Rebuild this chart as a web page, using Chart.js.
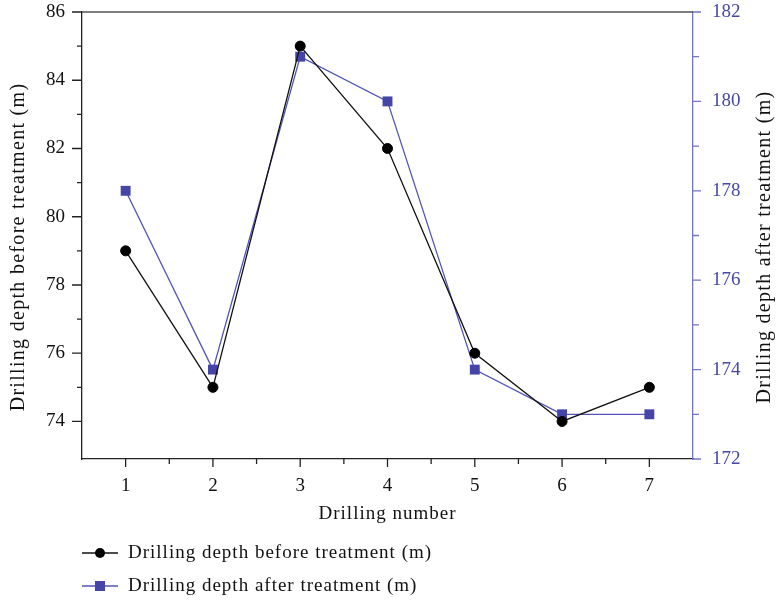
<!DOCTYPE html>
<html>
<head>
<meta charset="utf-8">
<script src="https://cdn.jsdelivr.net/npm/chart.js@4"></script>
<style>
  html, body { margin: 0; padding: 0; background: #fff; }
  #wrap { width: 776px; height: 604px; }
</style>
</head>
<body>
<div id="wrap"><canvas id="chart" width="776" height="604"></canvas></div>
<script>
const drillNumbers = ["1", "2", "3", "4", "5", "6", "7"];
const depthBefore = [79, 75, 85, 82, 76, 74, 75];
const depthAfter = [178, 174, 181, 180, 174, 173, 173];
const leftTicks = [74, 76, 78, 80, 82, 84, 86];
const leftMinor = [75, 77, 79, 81, 83, 85];
const rightTicks = [172, 174, 176, 178, 180, 182];
const rightMinor = [173, 175, 177, 179, 181];

const FONT = "'Liberation Serif', 'DejaVu Serif', serif";
const BLUE_LINE = "#5353b8";
const BLUE_MARK = "#4545a8";
const BLUE_AXIS = "#7474c8";
const BLUE_TEXT = "#4747a4";

function noPad(s) {
  s.paddingTop = 0; s.paddingBottom = 0;
  s.paddingLeft = 0; s.paddingRight = 0;
}

// tick marks, top border, axis titles and the legend
const decor = {
  id: "decor",
  afterDraw(chart) {
    const ctx = chart.ctx;
    const area = chart.chartArea;
    const x = chart.scales.x, y = chart.scales.y, y2 = chart.scales.y2;
    ctx.save();
    ctx.lineWidth = 1.3;

    // top border
    ctx.strokeStyle = "#555";
    ctx.beginPath();
    ctx.moveTo(area.left, area.top);
    ctx.lineTo(area.right, area.top);
    ctx.stroke();

    // left ticks
    ctx.strokeStyle = "#222";
    ctx.beginPath();
    leftTicks.forEach(v => {
      const py = y.getPixelForValue(v);
      ctx.moveTo(area.left - 10, py); ctx.lineTo(area.left, py);
    });
    leftMinor.forEach(v => {
      const py = y.getPixelForValue(v);
      ctx.moveTo(area.left - 5, py); ctx.lineTo(area.left, py);
    });
    // bottom ticks
    drillNumbers.forEach((c, i) => {
      const px = x.getPixelForValue(i);
      ctx.moveTo(px, area.bottom); ctx.lineTo(px, area.bottom + 8);
      if (i < drillNumbers.length - 1) {
        const mx = (px + x.getPixelForValue(i + 1)) / 2;
        ctx.moveTo(mx, area.bottom); ctx.lineTo(mx, area.bottom + 5);
      }
    });
    ctx.stroke();

    // right ticks
    ctx.strokeStyle = BLUE_AXIS;
    ctx.beginPath();
    rightTicks.forEach(v => {
      const py = y2.getPixelForValue(v);
      ctx.moveTo(area.right, py); ctx.lineTo(area.right + 8, py);
    });
    rightMinor.forEach(v => {
      const py = y2.getPixelForValue(v);
      ctx.moveTo(area.right, py); ctx.lineTo(area.right + 6, py);
    });
    ctx.stroke();

    // axis titles
    ctx.fillStyle = "#111";
    ctx.textAlign = "center";
    ctx.textBaseline = "middle";
    ctx.font = "20px " + FONT;
    ctx.letterSpacing = "1.3px";
    const midY = 247;
    ctx.save();
    ctx.translate(19, midY);
    ctx.rotate(-Math.PI / 2);
    ctx.fillText("Drilling depth before treatment (m)", 0, 0);
    ctx.restore();
    ctx.save();
    ctx.translate(765, midY);
    ctx.rotate(-Math.PI / 2);
    ctx.fillText("Drilling depth after treatment (m)", 0, 0);
    ctx.restore();
    ctx.font = "19px " + FONT;
    ctx.letterSpacing = "1px";
    ctx.fillText("Drilling number", (area.left + area.right) / 2, 514);

    // legend
    ctx.textAlign = "left";
    chart.data.datasets.forEach((ds, i) => {
      const ly = 553 + i * 33;
      const lx = 82;
      ctx.strokeStyle = ds.borderColor;
      ctx.lineWidth = 1.3;
      ctx.beginPath();
      ctx.moveTo(lx, ly); ctx.lineTo(lx + 36, ly);
      ctx.stroke();
      ctx.fillStyle = ds.pointBackgroundColor;
      if (ds.pointStyle === "rect") {
        ctx.fillRect(lx + 13, ly - 5, 10, 10);
      } else {
        ctx.beginPath();
        ctx.arc(lx + 18, ly, 5, 0, Math.PI * 2);
        ctx.fill();
      }
      ctx.fillStyle = "#111";
      ctx.fillText(ds.label, lx + 46, ly);
    });
    ctx.restore();
  }
};

new Chart(document.getElementById("chart"), {
  type: "line",
  data: {
    labels: drillNumbers,
    datasets: [
      {
        label: "Drilling depth before treatment (m)",
        data: depthBefore,
        yAxisID: "y",
        borderColor: "#111",
        backgroundColor: "#111",
        pointBackgroundColor: "#000",
        pointBorderColor: "#000",
        borderWidth: 1.3,
        pointStyle: "circle",
        pointRadius: 5,
        pointBorderWidth: 1,
        tension: 0
      },
      {
        label: "Drilling depth after treatment (m)",
        data: depthAfter,
        yAxisID: "y2",
        borderColor: BLUE_LINE,
        backgroundColor: BLUE_MARK,
        pointBackgroundColor: BLUE_MARK,
        pointBorderColor: BLUE_MARK,
        borderWidth: 1.3,
        pointStyle: "rect",
        pointRadius: 7,
        pointBorderWidth: 0,
        tension: 0
      }
    ]
  },
  options: {
    responsive: false,
    animation: false,
    layout: { padding: { top: 12, left: 0, right: 0, bottom: 75 } },
    plugins: {
      legend: { display: false },
      tooltip: { enabled: false }
    },
    scales: {
      x: {
        type: "category",
        offset: true,
        grid: { display: false, drawTicks: false },
        border: { display: true, color: "#222", width: 1.3 },
        ticks: { color: "#111", padding: 16, font: { family: FONT, size: 19 } },
        afterFit: (s) => { s.height = 70; noPad(s); }
      },
      y: {
        position: "left",
        min: 72.9,
        max: 86,
        afterBuildTicks: (s) => { s.ticks = leftTicks.map(v => ({ value: v })); },
        grid: { display: false, drawTicks: false },
        border: { display: true, color: "#222", width: 1.3 },
        ticks: { color: "#111", padding: 17, font: { family: FONT, size: 19 } },
        afterFit: (s) => { s.width = 82; noPad(s); }
      },
      y2: {
        position: "right",
        min: 172,
        max: 182,
        afterBuildTicks: (s) => { s.ticks = rightTicks.map(v => ({ value: v })); },
        grid: { display: false, drawTicks: false },
        border: { display: true, color: BLUE_AXIS, width: 1.3 },
        ticks: { color: BLUE_TEXT, padding: 19, font: { family: FONT, size: 19 } },
        afterFit: (s) => { s.width = 83; noPad(s); }
      }
    }
  },
  plugins: [decor]
});
</script>
</body>
</html>
